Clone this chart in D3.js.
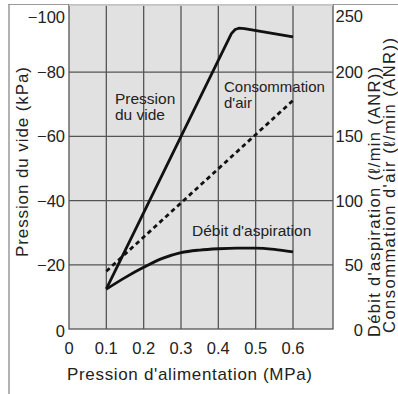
<!DOCTYPE html>
<html><head><meta charset="utf-8">
<script src="https://cdn.jsdelivr.net/npm/d3@7"></script>
<style>
body{margin:0;background:#fff;}
text{font-family:"Liberation Sans",Arial,Helvetica,sans-serif;fill:#222;}
</style></head>
<body>
<svg id="c" width="398" height="394"></svg>
<script>
const xTicks = [0, 0.1, 0.2, 0.3, 0.4, 0.5, 0.6];
const xTickLabels = ["0", "0.1", "0.2", "0.3", "0.4", "0.5", "0.6"];
const leftTicks = [0, -20, -40, -60, -80, -100];
const leftTickLabels = ["0", "\u221220", "\u221240", "\u221260", "\u221280", "\u2212100"];
const rightTicks = [0, 50, 100, 150, 200, 250];
const rightTickLabels = ["0", "50", "100", "150", "200", "250"];

// Pression du vide (kPa) vs pression d'alimentation (MPa)
const vacuumX = [0.1, 0.435, 0.445, 0.455, 0.47, 0.6];
const vacuumY = [-12.5, -92, -93.3, -93.7, -93.6, -91];
// Débit d'aspiration (l/min ANR)
const suctionX = [0.1, 0.15, 0.2, 0.25, 0.3, 0.35, 0.4, 0.45, 0.5, 0.55, 0.6];
const suctionY = [31, 40, 48, 55, 59.5, 61.5, 62.5, 63, 63, 62, 60];
// Consommation d'air (l/min ANR)
const airX = [0.1, 0.6];
const airY = [45, 178];

const svg = d3.select("#c");
const L = 69, R = 333, T = 5, B = 329;
const x = d3.scaleLinear().domain([0, 0.6]).range([L, 293]);
const yL = d3.scaleLinear().domain([0, -100]).range([B, 8]);
const yR = d3.scaleLinear().domain([0, 250]).range([B, 8]);

// outer frame fragments
svg.append("line").attr("x1",8).attr("x2",398).attr("y1",4.5).attr("y2",4.5).attr("stroke","#999").attr("stroke-width",1.2);
svg.append("line").attr("x1",9).attr("x2",9).attr("y1",4).attr("y2",394).attr("stroke","#999").attr("stroke-width",1.5);

// plot bg
svg.append("rect").attr("x",L).attr("y",T).attr("width",R-L).attr("height",B-T).attr("fill","#e1e1e1");

const grid = svg.append("g").attr("stroke","#555").attr("stroke-width",1.3);
xTicks.filter(d=>d>0).forEach(d=>{
  grid.append("line").attr("x1",x(d)).attr("x2",x(d)).attr("y1",T).attr("y2",B);
});
leftTicks.filter(d=>d<0 && d>-100).forEach(d=>{
  grid.append("line").attr("x1",L).attr("x2",R).attr("y1",yL(d)).attr("y2",yL(d));
});
// plot border
svg.append("rect").attr("x",L).attr("y",T).attr("width",R-L).attr("height",B-T)
  .attr("fill","none").attr("stroke","#555").attr("stroke-width",1.3);
svg.append("line").attr("x1",L).attr("x2",R).attr("y1",T).attr("y2",T).attr("stroke","#e1e1e1").attr("stroke-width",1.3);

// left tick labels
const lt = svg.append("g").style("font-size","16.5px").attr("text-anchor","end");
leftTicks.forEach((d,i)=>{
  let yy = yL(d);
  if (d === -100) yy = 17.5;
  if (d === 0) yy = 331;
  lt.append("text").attr("x",65).attr("y",yy).attr("dy","0.36em").text(leftTickLabels[i]);
});
// right tick labels
const rt = svg.append("g").style("font-size","16.5px").attr("text-anchor","end");
rightTicks.forEach((d,i)=>{
  let yy = yR(d);
  if (d === 250) yy = 16;
  if (d === 0) yy = 330;
  rt.append("text").attr("x",363).attr("y",yy).attr("dy","0.36em").text(rightTickLabels[i]);
});
// x tick labels
const xt = svg.append("g").style("font-size","16.5px").attr("text-anchor","middle");
xTicks.forEach((d,i)=>{
  xt.append("text").attr("x",x(d)).attr("y",354).text(xTickLabels[i]);
});

// axis titles
svg.append("text").attr("x",67).attr("y",380).style("font-size","17px")
  .attr("textLength",245).attr("lengthAdjust","spacing").text("Pression d'alimentation (MPa)");
svg.append("text").attr("transform","translate(28,257) rotate(-90)").style("font-size","17px")
  .attr("textLength",190).attr("lengthAdjust","spacing").text("Pression du vide (kPa)");
svg.append("text").attr("transform","translate(380,337) rotate(-90)").style("font-size","16.5px")
  .attr("textLength",270).attr("lengthAdjust","spacing").text("D\u00e9bit d'aspiration (\u2113/min (ANR))");
svg.append("text").attr("transform","translate(395,333) rotate(-90)").style("font-size","16.5px")
  .attr("textLength",295).attr("lengthAdjust","spacing").text("Consommation d'air (\u2113/min (ANR))");

// curves
const lineL = d3.line().x(d=>x(d[0])).y(d=>yL(d[1])).curve(d3.curveLinear);
const lineR = d3.line().x(d=>x(d[0])).y(d=>yR(d[1])).curve(d3.curveMonotoneX);
svg.append("path").datum(d3.zip(vacuumX, vacuumY)).attr("d", lineL)
  .attr("fill","none").attr("stroke","#111").attr("stroke-width",2.8).attr("stroke-linejoin","round");
svg.append("path").datum(d3.zip(suctionX, suctionY)).attr("d", lineR)
  .attr("fill","none").attr("stroke","#111").attr("stroke-width",2.8);
svg.append("path").datum(d3.zip(airX, airY)).attr("d", d3.line().x(d=>x(d[0])).y(d=>yR(d[1])))
  .attr("fill","none").attr("stroke","#111").attr("stroke-width",2.8).attr("stroke-dasharray","4.5,3.5");

// annotations
const an = svg.append("g").style("font-size","15.5px");
an.append("text").attr("x",115).attr("y",104).text("Pression");
an.append("text").attr("x",115).attr("y",120).text("du vide");
an.append("text").attr("x",224).attr("y",92).style("font-size","15px").text("Consommation");
an.append("text").attr("x",224).attr("y",108).style("font-size","15px").text("d'air");
an.append("text").attr("x",192).attr("y",236).text("D\u00e9bit d'aspiration");
</script>
</body></html>
